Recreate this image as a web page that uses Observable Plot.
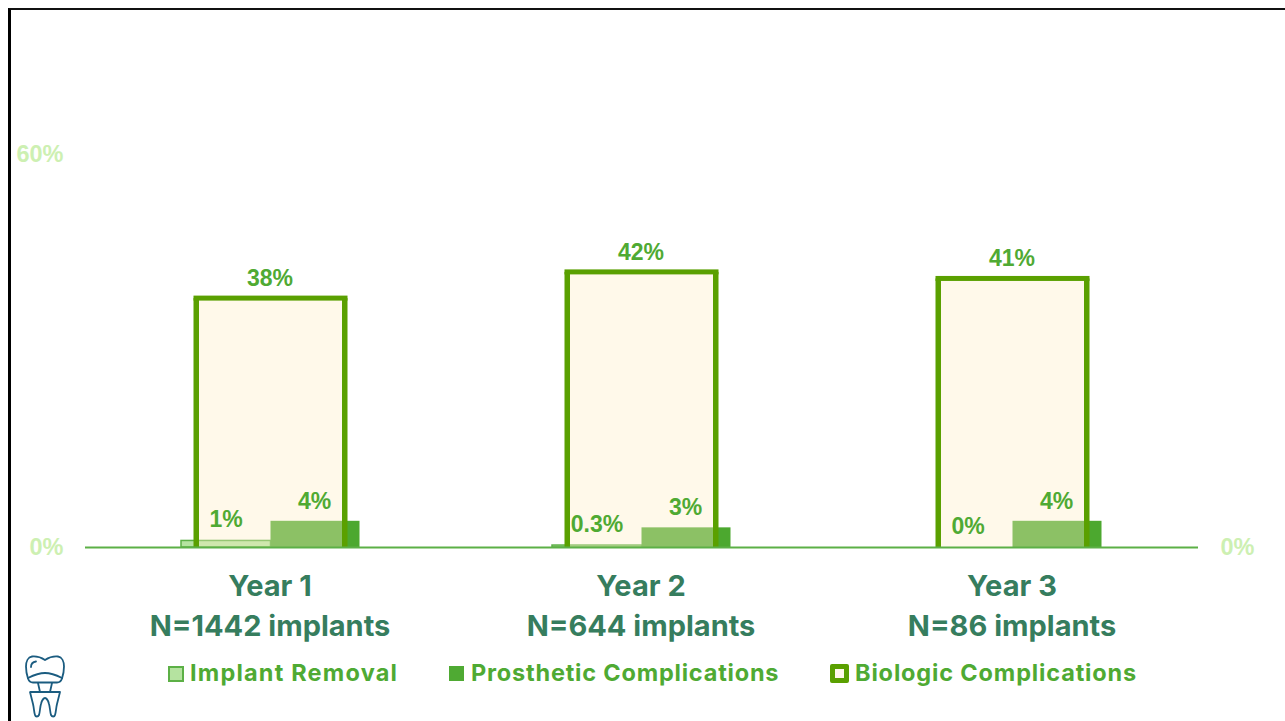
<!DOCTYPE html>
<html>
<head>
<meta charset="utf-8">
<script src="https://cdn.jsdelivr.net/npm/d3@7"></script>
<script src="https://cdn.jsdelivr.net/npm/@observablehq/plot@0.6"></script>
<style>
html,body{margin:0;padding:0;background:#fff;width:1285px;height:721px;overflow:hidden}
#page{position:relative;width:1285px;height:721px}
#border{position:absolute;left:8px;top:8px;right:0;bottom:0;border-left:3px solid #000;border-top:2.5px solid #111;pointer-events:none}
#chart svg{display:block;background:transparent}
#legend{position:absolute;left:0;top:640px;width:1285px;height:81px;font-family:Inter,"Noto Sans",sans-serif;font-weight:700;font-size:23.5px;color:#4faa33}
.item{position:absolute;top:19px;height:27px;line-height:27px;white-space:nowrap}
.sw{position:absolute;box-sizing:border-box}
#tooth{position:absolute;left:20px;top:652px}
</style>
</head>
<body>
<div id="page">
<div id="border"></div>
<div id="chart"></div>
<div id="legend"></div>
<svg id="tooth" width="50" height="69" viewBox="20 652 50 69" fill="none" stroke="#1b5c80" stroke-width="1.8" stroke-linejoin="round" stroke-linecap="round">
  <path d="M45 660c-3-2-8-4-13-3.500-4 .5-6 5-6 10 0 4 1 9 2 12 1 3 3 4 5 4h24c2 0 4-1 5-4 1-3 2-8 2-12 0-5-2-9.500-6-10-5-.5-10 1.500-13 3.500z"/>
  <path d="M28 678c6-3 11-5 17-5s11 2 17 5"/>
  <path d="M31 667c0-3 2-5 5-5.500"/>
  <path d="M38 683l2 9M52 683l-2 9"/>
  <path d="M30 692h30l-3 12c-1 4-1 8-2 11-.5 2-3 2-4 0-1-3-1-8-2-11-1-4-3-6-4-6s-3 2-4 6c-1 3-1 8-2 11-1 2-3.500 2-4 0-1-3-1-7-2-11z"/>
</svg>
</div>
<script>
const years = ["Year 1", "Year 2", "Year 3"];
const implantCounts = [1442, 644, 86];
const implantRemoval = [1, 0.3, 0];
const prostheticComplications = [4, 3, 4];
const biologicComplications = [38, 42, 41];
const legendLabels = ["Implant Removal", "Prosthetic Complications", "Biologic Complications"];

const rows = v => years.map((year, i) => ({year, value: v[i]}));
const pct = d => `${d.value}%`;
const labelFont = {fontFamily: '"Liberation Sans", Arial, sans-serif', fontWeight: 700, fontSize: 23, fill: "#4faa33"};
const axisFont = {fontFamily: '"Liberation Sans", Arial, sans-serif', fontWeight: 700, fontSize: 23.5, fill: "#cdf0b2", tickSize: 0};
const nByYear = new Map(years.map((y, i) => [y, implantCounts[i]]));
const outline = "#5aa000";

const chart = Plot.plot({
  width: 1285, height: 640,
  marginLeft: 85, marginRight: 87, marginTop: 154, marginBottom: 93,
  style: {background: "transparent", overflow: "visible"},
  x: {type: "band", domain: years, padding: 0, label: null},
  y: {domain: [0, 60], label: null},
  marks: [
    Plot.barY(rows(implantRemoval), {x: "year", y: "value", insetLeft: 96, insetRight: 185.5, fill: "#b5e3a0", stroke: "#5cb046", strokeWidth: 1.5}),
    Plot.barY(rows(prostheticComplications), {x: "year", y: "value", insetLeft: 185.5, insetRight: 96.5, fill: "#4ca82f"}),
    // Biologic bars: translucent fill plus a three-sided outline (no stroke along the baseline)
    Plot.barY(rows(biologicComplications), {x: "year", y: "value", insetLeft: 111, insetRight: 111, fill: "#ffeec4", fillOpacity: 0.36}),
    Plot.barY(rows(biologicComplications), {x: "year", y: "value", insetLeft: 108.5, insetRight: 257, fill: outline}),
    Plot.barY(rows(biologicComplications), {x: "year", y: "value", insetLeft: 257, insetRight: 108.5, fill: outline}),
    Plot.barY(rows(biologicComplications), {x: "year", y1: "value", y2: "value", insetLeft: 108.5, insetRight: 108.5, insetTop: -2.5, insetBottom: -2.5, fill: outline}),
    Plot.ruleY([0], {stroke: "#5cb046", strokeWidth: 2}),
    Plot.text(rows(biologicComplications), {x: "year", y: "value", text: pct, dx: -1, dy: -20, ...labelFont}),
    Plot.text(rows(prostheticComplications), {x: "year", y: "value", text: pct, dx: 43.5, dy: -20, ...labelFont}),
    Plot.text(rows(implantRemoval), {x: "year", y: "value", text: pct, dx: -45, dy: -21, ...labelFont}),
    Plot.axisY({anchor: "left", ticks: [0, 60], tickFormat: d => `${d}%`, tickPadding: 22, dy: -0.5, label: null, ...axisFont}),
    Plot.axisY({anchor: "right", ticks: [0], tickFormat: d => `${d}%`, tickPadding: 22, dy: -0.5, label: null, ...axisFont}),
    Plot.axisX({anchor: "bottom", tickSize: 0, tickPadding: 20, dx: -1, label: null,
      tickFormat: y => `${y}\nN=${nByYear.get(y)} implants`,
      lineHeight: 1.38, fontFamily: 'Inter, "Noto Sans", sans-serif', fontWeight: 700, fontSize: 29, fill: "#367d5e"})
  ]
});
document.getElementById("chart").append(chart);

const legend = document.getElementById("legend");
const swatches = [
  {x: 168, y: 26, s: 16, css: "background:#b5e3a0;border:2px solid #5cb046"},
  {x: 449, y: 26, s: 15, css: "background:#4faa33"},
  {x: 830, y: 24, s: 19, css: "background:#fff8ea;border:5px solid #5aa000;border-radius:2px"}
];
const textX = [190, 471, 855];
const spacing = [1.2, 0.8, 0.85];
legendLabels.forEach((label, i) => {
  const s = swatches[i];
  legend.insertAdjacentHTML("beforeend",
    `<span class="sw" style="left:${s.x}px;top:${s.y}px;width:${s.s}px;height:${s.s}px;${s.css}"></span>` +
    `<span class="item" style="left:${textX[i]}px;letter-spacing:${spacing[i]}px">${label}</span>`);
});
</script>
</body>
</html>
